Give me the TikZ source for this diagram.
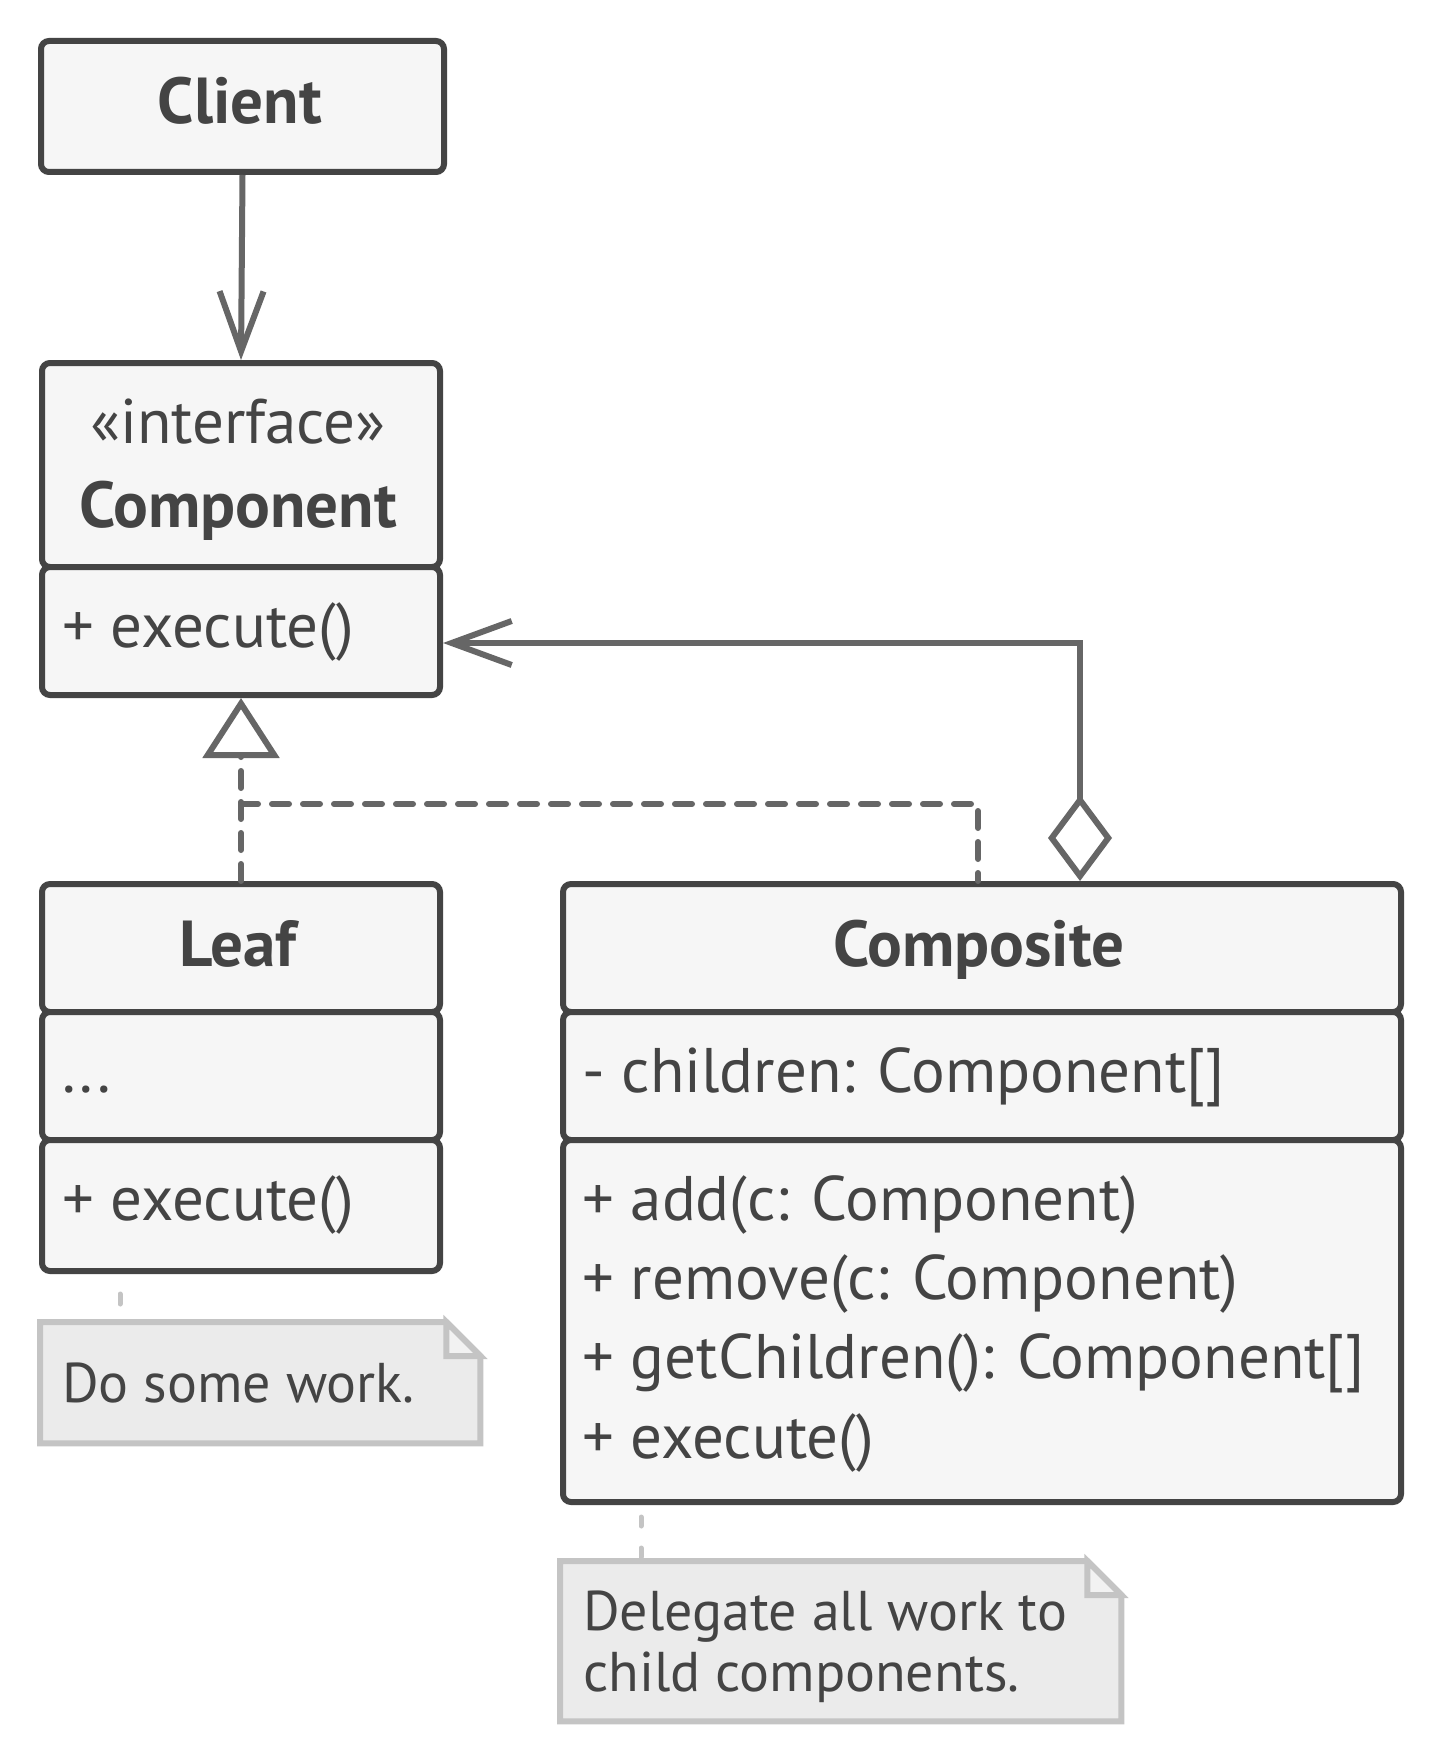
\documentclass[tikz,border=0pt]{standalone}
\usepackage{fontspec}
\setmainfont{PT Sans}
\usetikzlibrary{arrows.meta}
\definecolor{ink}{HTML}{444444}
\definecolor{boxfill}{HTML}{F6F6F6}
\definecolor{wire}{HTML}{666666}
\definecolor{notefill}{HTML}{EBEBEB}
\definecolor{noteline}{HTML}{C4C4C4}
\definecolor{foldfill}{HTML}{F2F2F2}
\begin{document}
\begin{tikzpicture}[x=1pt,y=-1pt,
  cell/.style={draw=ink, fill=boxfill, line width=6pt, rounded corners=8pt,
    inner sep=0pt, anchor=north west, rectangle},
  holder/.style={inner sep=0pt, anchor=north west, rectangle},
  txt/.style={text=ink, font=\fontsize{63}{72}\selectfont, inner sep=0pt},
  notetxt/.style={text=ink, font=\fontsize{56}{62}\selectfont, inner sep=0pt, anchor=base west},
  ttl/.style={text=ink, font=\fontsize{65}{72}\selectfont\bfseries, inner sep=0pt, anchor=base},
  wireline/.style={draw=wire, line width=6pt},
  barb/.style={-{Straight Barb[length=60pt,width=44pt]}},
  dashline/.style={draw=wire, line width=6pt, line cap=round, dash pattern=on 17pt off 14pt},
  notebody/.style={draw=noteline, fill=notefill, line width=6pt, line join=miter},
  noteconn/.style={draw=noteline, line width=5pt, line cap=round}
]
\useasboundingbox[fill=white] (0,0) rectangle (1440,1760);

% boxes
\node[cell, minimum width=403pt, minimum height=131pt] (client) at (38,38) {};
\node[cell, minimum width=398pt, minimum height=204pt] (comph) at (39,360) {};
\node[cell, minimum width=398pt, minimum height=128pt] (compm) at (39,564) {};

\node[cell, minimum width=398pt, minimum height=128pt] (leafh) at (39,881) {};
\node[cell, minimum width=398pt, minimum height=128pt] (leaff) at (39,1009) {};
\node[cell, minimum width=398pt, minimum height=131pt] (leafm) at (39,1137) {};

\node[cell, minimum width=838pt, minimum height=128pt] (cmph) at (560,881) {};
\node[cell, minimum width=838pt, minimum height=128pt] (cmpf) at (560,1009) {};
\node[cell, minimum width=838pt, minimum height=362pt] (cmpm) at (560,1137) {};

% texts
\node[ttl] (tclient) at (240,124) {Client};
\node[txt, anchor=base] (tstereo) at (238,443) {«interface»};
\node[ttl] (tcomp) at (238,527) {Component};
\node[txt, anchor=base west] (tcompm) at (62,647) {+ execute()};

\node[ttl] (tleaf) at (238,966) {Leaf};
\node[txt, anchor=base west] (tleaff) at (62,1092) {...};
\node[txt, anchor=base west] (tleafm) at (62,1220) {+ execute()};

\node[ttl] (tcmp) at (979,966) {Composite};
\node[txt, anchor=base west] (tcmpf) at (582,1092) {- children: Component[]};
\node[txt, anchor=base west] (tm1) at (582,1220) {+ add(c: Component)};
\node[txt, anchor=base west] (tm2) at (582,1299) {+ remove(c: Component)};
\node[txt, anchor=base west] (tm3) at (582,1378) {+ getChildren(): Component[]};
\node[txt, anchor=base west] (tm4) at (582,1458) {+ execute()};

% client -> component
\draw[wireline, barb] (client.south) -- (comph.north);

% aggregation composite -> component
\coordinate (aggstart) at ([xshift=520pt]cmph.north west);
\coordinate (aggend) at ([yshift=-12pt]compm.east);
\draw[wireline, {Diamond[length=86pt,width=64pt,fill=white]}-{Straight Barb[length=60pt,width=44pt]}]
  (aggstart) |- (aggend);

% realization
\coordinate (rj) at ([yshift=77pt]leafh.north);
\coordinate (rc) at ([xshift=418pt]cmph.north west);
\draw[dashline, -{Triangle[open, length=60pt, width=76pt, fill=white]}] (leafh.north) -- (compm.south);
\draw[dashline] (rj) -| (rc);

% notes
\node[holder, minimum width=440pt, minimum height=121pt] (lnote) at (40,1322) {};
\draw[noteconn, dash pattern=on 10pt off 100pt, dash phase=90pt]
  ([xshift=81pt]leafm.south west) -- ([xshift=80pt]lnote.north west);
\draw[notebody] (lnote.north west) -- ([xshift=-34pt]lnote.north east)
  -- ([yshift=-34pt]lnote.north east) -- (lnote.south east) -- (lnote.south west) -- cycle;
\draw[notebody, fill=foldfill] ([xshift=-34pt]lnote.north east) |- ([yshift=-34pt]lnote.north east) -- cycle;
\node[notetxt] (tlnote) at (62,1402) {Do some work.};

\node[holder, minimum width=561pt, minimum height=160pt] (cnote) at (560,1561) {};
\draw[noteconn, dash pattern=on 9pt off 22pt, dash phase=19pt]
  ([xshift=81pt]cmpm.south west) -- ([xshift=81pt]cnote.north west);
\draw[notebody] (cnote.north west) -- ([xshift=-34pt]cnote.north east)
  -- ([yshift=-34pt]cnote.north east) -- (cnote.south east) -- (cnote.south west) -- cycle;
\draw[notebody, fill=foldfill] ([xshift=-34pt]cnote.north east) |- ([yshift=-34pt]cnote.north east) -- cycle;
\node[notetxt] (tcnote1) at (583,1630) {Delegate all work to};
\node[notetxt] (tcnote2) at (583,1691) {child components.};
\end{tikzpicture}
\end{document}
